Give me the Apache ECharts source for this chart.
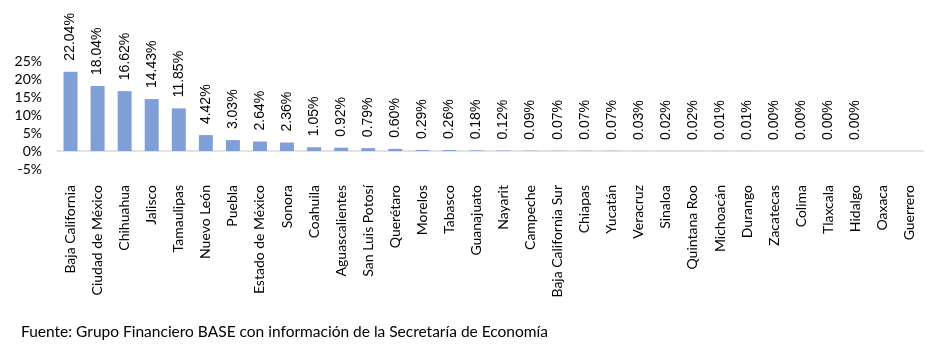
<!DOCTYPE html>
<html>
<head>
<meta charset="utf-8">
<script src="https://cdn.jsdelivr.net/npm/echarts@6/dist/echarts.min.js"></script>
<style>
html,body{margin:0;padding:0;background:#fff;}
#chart{width:937px;height:353px;}
</style>
</head>
<body>
<div id="chart"></div>
<script>
const categories = ["Baja California","Ciudad de México","Chihuahua","Jalisco","Tamaulipas","Nuevo León","Puebla","Estado de México","Sonora","Coahuila","Aguascalientes","San Luis Potosí","Querétaro","Morelos","Tabasco","Guanajuato","Nayarit","Campeche","Baja California Sur","Chiapas","Yucatán","Veracruz","Sinaloa","Quintana Roo","Michoacán","Durango","Zacatecas","Colima","Tlaxcala","Hidalgo","Oaxaca","Guerrero"];
const values = [22.04,18.04,16.62,14.43,11.85,4.42,3.03,2.64,2.36,1.05,0.92,0.79,0.60,0.29,0.26,0.18,0.12,0.09,0.07,0.07,0.07,0.03,0.02,0.02,0.01,0.01,0.00,0.00,0.00,0.00,null,null];
const yTicks = [-5,0,5,10,15,20,25];
const sourceText = "Fuente: Grupo Financiero BASE con información de la Secretaría de Economía";

const chart = echarts.init(document.getElementById('chart'), null, {renderer:'canvas'});
chart.setOption({
  animation:false,
  backgroundColor:'#ffffff',
  grid:{left:57,right:14,top:61,bottom:184,containLabel:false},
  xAxis:{
    type:'category',
    data:categories,
    axisLine:{onZero:true,lineStyle:{color:'#d9d9d9',width:1.5}},
    axisTick:{show:false},
    axisLabel:{rotate:90,interval:0,margin:16,fontFamily:'Lato',fontSize:14,color:'#000'}
  },
  yAxis:{
    type:'value',
    min:yTicks[0],max:yTicks[yTicks.length-1],interval:5,
    axisLine:{show:false},axisTick:{show:false},splitLine:{show:false},
    axisLabel:{formatter:'{value}%',fontFamily:'Lato',fontSize:14,color:'#000',margin:15}
  },
  series:[{
    type:'bar',
    data:values,
    barWidth:14,
    itemStyle:{color:'#809fd6'},
    label:{
      show:true,position:'top',rotate:90,distance:11,align:'left',verticalAlign:'middle',
      fontFamily:'Liberation Sans',fontSize:14,color:'#000',
      formatter:p=>p.value==null?'':p.value.toFixed(2)+'%'
    }
  }],
  graphic:[{type:'text',left:21,top:324,style:{text:sourceText,fontFamily:'Lato',fontSize:15.5,fill:'#000'}}]
});
</script>
</body>
</html>
